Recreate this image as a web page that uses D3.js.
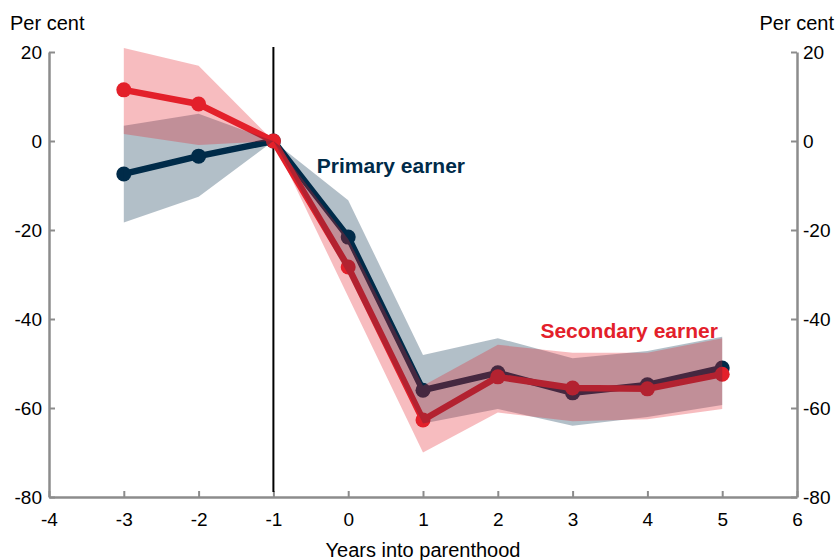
<!DOCTYPE html>
<html>
<head>
<meta charset="utf-8">
<script src="https://cdn.jsdelivr.net/npm/d3@7"></script>
<style>
  body { margin: 0; background: #fff; }
  text { font-family: "Liberation Sans", Arial, sans-serif; }
</style>
</head>
<body>
<div id="chart"></div>
<script>
// years relative to parenthood
const years = [-3, -2, -1, 0, 1, 2, 3, 4, 5];

// primary earner: estimate and confidence band
const primary = [-7.4, -3.4, 0, -21.6, -56, -52.1, -56.6, -54.8, -51];
const primaryLo = [-18.3, -12.5, 0, -30, -63.5, -60.2, -64, -62, -59.3];
const primaryHi = [3.4, 6.1, 0, -13.3, -48.1, -44.3, -48.8, -47.2, -44];

// secondary earner: estimate and confidence band
const secondary = [11.5, 8.3, 0, -28.3, -62.7, -53, -55.5, -55.7, -52.4];
const secondaryLo = [1.6, -0.9, 0, -35, -70, -61, -63, -62.5, -60.2];
const secondaryHi = [20.9, 16.9, 0, -22, -55, -45.8, -47.6, -47.6, -44.3];

const xTicks = [-4, -3, -2, -1, 0, 1, 2, 3, 4, 5, 6];
const yTicks = [-80, -60, -40, -20, 0, 20];

const navy = "#002b49";
const red = "#e3202a";

const W = 835, H = 560;
const margin = { top: 52, right: 38, bottom: 63, left: 49 };

const svg = d3.select("#chart").append("svg")
  .attr("width", W)
  .attr("height", H);

const x = d3.scaleLinear().domain([-4, 6]).range([margin.left, W - margin.right]);
const y = d3.scaleLinear().domain([-80, 20]).range([H - margin.bottom, margin.top]);

const axisColor = "#8c8c8c";
const fmt = d => String(d); // plain hyphen for negatives

// left axis, ticks pointing in
const yLeft = svg.append("g")
  .attr("transform", `translate(${margin.left},0)`)
  .call(d3.axisLeft(y).tickValues(yTicks).tickFormat(fmt).tickSize(-6).tickSizeOuter(0).tickPadding(7));

// right axis
const yRight = svg.append("g")
  .attr("transform", `translate(${W - margin.right},0)`)
  .call(d3.axisRight(y).tickValues(yTicks).tickFormat(fmt).tickSize(-6).tickSizeOuter(0).tickPadding(6));

// bottom axis
const xAxis = svg.append("g")
  .attr("transform", `translate(0,${H - margin.bottom})`)
  .call(d3.axisBottom(x).tickValues(xTicks).tickFormat(fmt).tickSize(-6).tickSizeOuter(0).tickPadding(16));

[yLeft, yRight, xAxis].forEach(g => {
  g.select(".domain").attr("stroke", axisColor).attr("stroke-width", 2.5);
  g.selectAll(".tick line").attr("stroke", axisColor).attr("stroke-width", 2);
  g.selectAll(".tick text")
    .attr("fill", "#000")
    .style("font-size", "19px")
    .style("font-family", "'Liberation Sans', Arial, sans-serif");
});

// axis titles
svg.append("text").attr("x", 10).attr("y", 30)
  .style("font-size", "20px").text("Per cent");
svg.append("text").attr("x", 834).attr("y", 30).attr("text-anchor", "end")
  .style("font-size", "20px").text("Per cent");
svg.append("text").attr("x", x(1)).attr("y", 557).attr("text-anchor", "middle")
  .style("font-size", "20px").text("Years into parenthood");

// vertical line at year -1
svg.append("line")
  .attr("x1", x(-1)).attr("x2", x(-1))
  .attr("y1", y(21.1)).attr("y2", y(-78.9))
  .attr("stroke", "#000").attr("stroke-width", 2);

const line = d3.line().x((d, i) => x(years[i])).y(d => y(d));
const area = d3.area()
  .x((d, i) => x(years[i]))
  .y0(d => y(d[0]))
  .y1(d => y(d[1]));

function drawSeries(vals, color) {
  svg.append("path")
    .datum(vals)
    .attr("d", line)
    .attr("fill", "none")
    .attr("stroke", color)
    .attr("stroke-width", 6.5)
    .attr("stroke-linejoin", "round");
  svg.append("g").selectAll("circle")
    .data(vals)
    .join("circle")
    .attr("cx", (d, i) => x(years[i]))
    .attr("cy", d => y(d))
    .attr("r", 7.5)
    .attr("fill", color);
}

drawSeries(primary, navy);
drawSeries(secondary, red);

// bands drawn on top, semi-transparent
svg.append("path")
  .datum(primaryLo.map((d, i) => [d, primaryHi[i]]))
  .attr("d", area)
  .attr("fill", navy)
  .attr("fill-opacity", 0.3);

svg.append("path")
  .datum(secondaryLo.map((d, i) => [d, secondaryHi[i]]))
  .attr("d", area)
  .attr("fill", red)
  .attr("fill-opacity", 0.3);

// series labels
svg.append("text")
  .attr("x", x(-0.42)).attr("y", y(-7.2))
  .attr("fill", navy)
  .style("font-size", "21px").style("font-weight", "bold")
  .text("Primary earner");

svg.append("text")
  .attr("x", x(2.57)).attr("y", y(-44.2))
  .attr("fill", red)
  .style("font-size", "21px").style("font-weight", "bold")
  .text("Secondary earner");
</script>
</body>
</html>
